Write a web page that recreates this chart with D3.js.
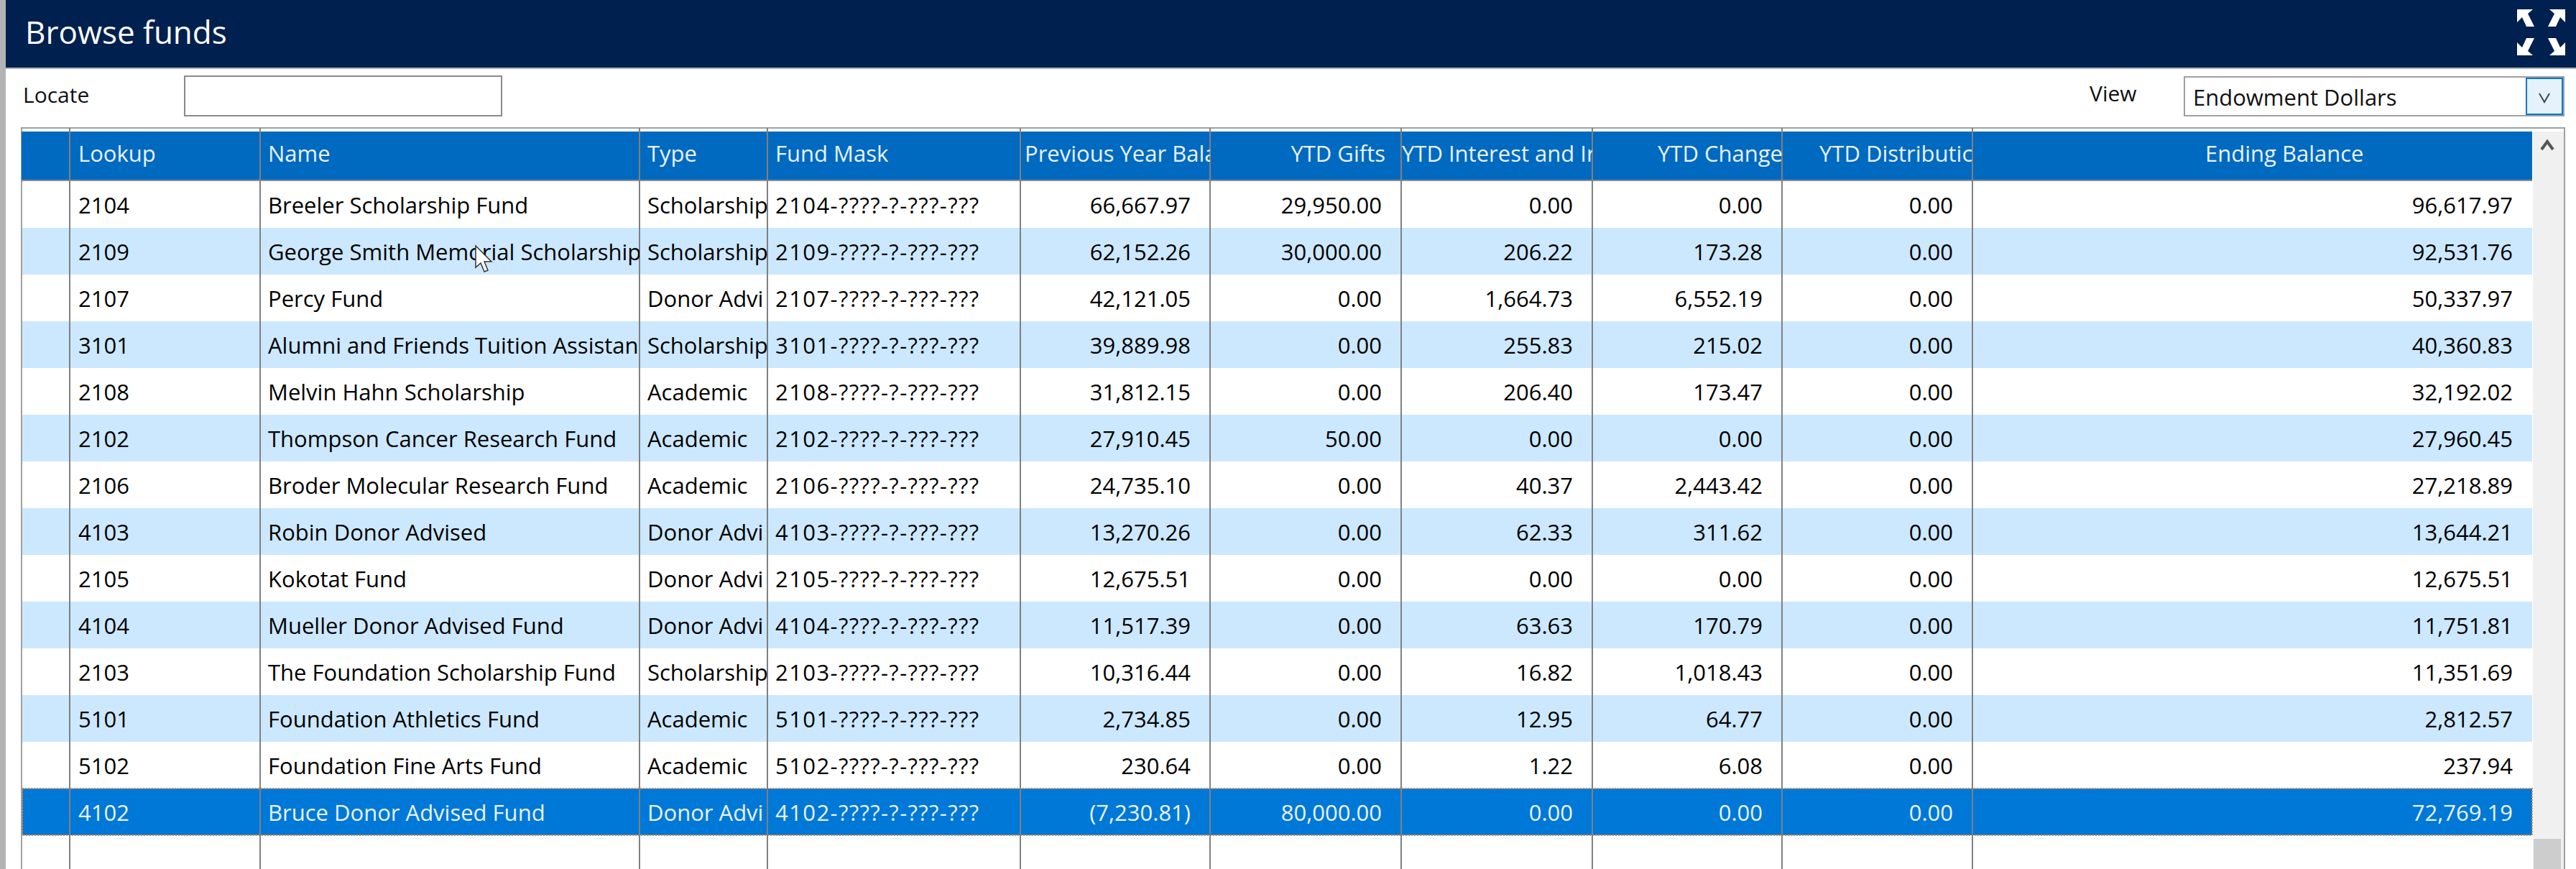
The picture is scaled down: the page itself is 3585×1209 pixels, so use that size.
<!DOCTYPE html>
<html>
<head>
<meta charset="utf-8">
<title>Browse funds</title>
<script src="https://cdnjs.cloudflare.com/ajax/libs/d3/7.8.5/d3.min.js"></script>
<style>
    html, body { margin: 0; padding: 0; background: #fff; overflow: hidden; }
    text { font-family: 'Open Sans', 'Noto Sans', sans-serif; }
</style>
</head>
<body>
<svg id="screen" width="3585" height="1209"></svg>
<script>
// long strings stop where the grid cuts them off in the screenshot
const lookups = ['2104', '2109', '2107', '3101', '2108', '2102', '2106', '4103', '2105', '4104', '2103', '5101', '5102', '4102'];
const names = ['Breeler Scholarship Fund', 'George Smith Memorial Scholarship', 'Percy Fund',
    'Alumni and Friends Tuition Assistan', 'Melvin Hahn Scholarship', 'Thompson Cancer Research Fund',
    'Broder Molecular Research Fund', 'Robin Donor Advised', 'Kokotat Fund', 'Mueller Donor Advised Fund',
    'The Foundation Scholarship Fund', 'Foundation Athletics Fund', 'Foundation Fine Arts Fund', 'Bruce Donor Advised Fund'];
const types = ['Scholarship', 'Scholarship', 'Donor Advi', 'Scholarship', 'Academic', 'Academic', 'Academic',
    'Donor Advi', 'Donor Advi', 'Donor Advi', 'Scholarship', 'Academic', 'Academic', 'Donor Advi'];
const previousBalance = [66667.97, 62152.26, 42121.05, 39889.98, 31812.15, 27910.45, 24735.10, 13270.26, 12675.51, 11517.39, 10316.44, 2734.85, 230.64, -7230.81];
const ytdGifts = [29950, 30000, 0, 0, 0, 50, 0, 0, 0, 0, 0, 0, 0, 80000];
const ytdInterest = [0, 206.22, 1664.73, 255.83, 206.40, 0, 40.37, 62.33, 0, 63.63, 16.82, 12.95, 1.22, 0];
const ytdChange = [0, 173.28, 6552.19, 215.02, 173.47, 0, 2443.42, 311.62, 0, 170.79, 1018.43, 64.77, 6.08, 0];
const ytdDistributions = [0, 0, 0, 0, 0, 0, 0, 0, 0, 0, 0, 0, 0, 0];
const endingBalance = [96617.97, 92531.76, 50337.97, 40360.83, 32192.02, 27960.45, 27218.89, 13644.21, 12675.51, 11751.81, 11351.69, 2812.57, 237.94, 72769.19];
const columnTitles = ['', 'Lookup', 'Name', 'Type', 'Fund Mask', 'Previous Year Bala', 'YTD Gifts',
    'YTD Interest and Ir', 'YTD Change', 'YTD Distributic', 'Ending Balance'];
const selectedLookup = '4102';

// layout
const columnEdges = [30, 97, 362, 890, 1068, 1420, 1684, 1950, 2216, 2480, 2745, 3524];
const fontSize = 31;

const svg = d3.select('#screen');
const navy = '#00204f', headerBlue = '#0069c0', rowBlue = '#cce8ff', selectedBlue = '#0078d7', lineGray = '#808080';

const x = d3.scaleOrdinal(columnTitles, columnEdges);
const right = name => columnEdges[columnTitles.indexOf(name) + 1];
const y = d3.scaleBand(lookups, [252, 1162]);
const money = v => v < 0 ? '(' + d3.format(',.2f')(-v) + ')' : d3.format(',.2f')(v);

// frame
svg.append('rect').attr('width', 8).attr('height', 1209).attr('fill', '#b3b3b3');
svg.append('rect').attr('x', 8).attr('width', 3577).attr('height', 94).attr('fill', navy);
svg.append('rect').attr('x', 8).attr('y', 94).attr('width', 3577).attr('height', 2).attr('fill', '#a9b4c4');
svg.append('text').attr('x', 35).attr('y', 61).attr('fill', '#fff').attr('font-size', 44).text('Browse funds');

// full screen arrows
const arrow = 'M0,0 L22,0 L15,6 L24,24 L13,24 L7,11 L0,18 Z';
[[3503, 13, 1, 1], [3570, 13, -1, 1], [3503, 77, 1, -1], [3570, 77, -1, -1]].forEach(a => {
    svg.append('path').attr('d', arrow).attr('fill', '#fff')
        .attr('transform', `translate(${a[0]},${a[1]}) scale(${a[2]},${a[3]})`);
});

// locate and view controls
svg.append('text').attr('x', 32).attr('y', 143).attr('font-size', 30).attr('fill', '#111').text('Locate');
svg.append('rect').attr('x', 257).attr('y', 106).attr('width', 441).attr('height', 55)
    .attr('fill', '#fff').attr('stroke', '#8a8a8a').attr('stroke-width', 2);
svg.append('text').attr('x', 2908).attr('y', 141).attr('font-size', 30).attr('fill', '#111').text('View');
svg.append('rect').attr('x', 3040).attr('y', 107).attr('width', 528).attr('height', 54)
    .attr('fill', '#fff').attr('stroke', '#a0a0a0').attr('stroke-width', 2);
svg.append('rect').attr('x', 3516).attr('y', 109).attr('width', 50).attr('height', 50)
    .attr('fill', '#e5f1fb').attr('stroke', '#0078d7').attr('stroke-width', 2);
svg.append('path').attr('d', 'M3534,130 L3541,142 L3548,130').attr('fill', 'none').attr('stroke', '#444').attr('stroke-width', 2);
svg.append('text').attr('x', 3052).attr('y', 147).attr('font-size', fontSize).attr('fill', '#111').text('Endowment Dollars');

// table frame
svg.append('rect').attr('x', 30).attr('y', 178).attr('width', 3539).attr('height', 1040)
    .attr('fill', '#fff').attr('stroke', '#a0a0a0').attr('stroke-width', 2);
svg.append('rect').attr('x', 30).attr('y', 183).attr('width', 3494).attr('height', 68).attr('fill', headerBlue);
svg.append('rect').attr('x', 30).attr('y', 250).attr('width', 3494).attr('height', 3).attr('fill', '#8c8c8c');

// scrollbar
svg.append('rect').attr('x', 3525).attr('y', 183).attr('width', 43).attr('height', 1026).attr('fill', '#f0f0f0');
svg.append('rect').attr('x', 3526).attr('y', 1167).attr('width', 38).attr('height', 42).attr('fill', '#cdcdcd');
svg.append('path').attr('d', 'M3537,208 L3545,197 L3553,208').attr('fill', 'none').attr('stroke', '#555').attr('stroke-width', 4);

// rows
svg.append('g').selectAll('rect')
    .data(lookups)
    .enter()
    .append('rect')
    .attr('x', 31)
    .attr('y', d => y(d))
    .attr('width', 3493)
    .attr('height', y.bandwidth())
    .attr('fill', (d, i) => d === selectedLookup ? selectedBlue : i % 2 ? rowBlue : '#fff');

// dotted focus border on the selected row
svg.append('rect')
    .attr('x', 31)
    .attr('y', y(selectedLookup))
    .attr('width', 3493)
    .attr('height', y.bandwidth())
    .attr('fill', 'none')
    .attr('stroke', '#d98a3d')
    .attr('stroke-width', 2)
    .attr('stroke-dasharray', '2,2');

// column clips so the long text is cut at the column edge, as in the grid
const defs = svg.append('defs');
columnTitles.forEach((t, i) => {
    defs.append('clipPath').attr('id', 'col' + i)
        .append('rect')
        .attr('x', columnEdges[i])
        .attr('y', 170)
        .attr('width', columnEdges[i + 1] - columnEdges[i])
        .attr('height', 1039);
});

// grid lines
svg.append('g').selectAll('line')
    .data(columnEdges.slice(1, -1))
    .enter()
    .append('line')
    .attr('x1', d => d)
    .attr('x2', d => d)
    .attr('y1', 178)
    .attr('y2', 1209)
    .attr('stroke', lineGray)
    .attr('stroke-width', 2);

// header labels: [column, anchor, text x]
const headerLabels = [
    ['Lookup', 'start', 109], ['Name', 'start', 373], ['Type', 'start', 901], ['Fund Mask', 'start', 1079],
    ['Previous Year Bala', 'start', 1426], ['YTD Gifts', 'end', 1928],
    ['YTD Interest and Ir', 'start', 1951], ['YTD Change', 'end', 2481],
    ['YTD Distributic', 'start', 2532], ['Ending Balance', 'start', 3069]
];
svg.append('g').selectAll('text')
    .data(headerLabels)
    .enter()
    .append('text')
    .attr('x', d => d[2])
    .attr('y', 225)
    .attr('text-anchor', d => d[1])
    .attr('font-size', fontSize)
    .attr('fill', '#e8f3fc')
    .attr('clip-path', d => `url(#col${columnTitles.indexOf(d[0])})`)
    .text(d => d[0]);

// cells
const textColumns = [
    ['Lookup', lookups, 12, 0],
    ['Name', names, 11, 0],
    ['Type', types, 11, 0],
    ['Fund Mask', lookups.map(d => d + '-????-?-???-???'), 11, 1.4]
];
const numberColumns = [
    ['Previous Year Bala', previousBalance],
    ['YTD Gifts', ytdGifts],
    ['YTD Interest and Ir', ytdInterest],
    ['YTD Change', ytdChange],
    ['YTD Distributic', ytdDistributions],
    ['Ending Balance', endingBalance]
];
const cellFill = (d, i) => lookups[i] === selectedLookup ? '#e8f3fc' : '#000';

textColumns.forEach(c => {
    svg.append('g').selectAll('text')
        .data(c[1])
        .enter()
        .append('text')
        .attr('x', x(c[0]) + c[2])
        .attr('y', (d, i) => y(lookups[i]) + 45)
        .attr('font-size', fontSize)
        .attr('letter-spacing', c[3])
        .attr('fill', cellFill)
        .attr('clip-path', `url(#col${columnTitles.indexOf(c[0])})`)
        .text(d => d);
});

numberColumns.forEach(c => {
    svg.append('g').selectAll('text')
        .data(c[1])
        .enter()
        .append('text')
        .attr('x', right(c[0]) - 27)
        .attr('y', (d, i) => y(lookups[i]) + 45)
        .attr('text-anchor', 'end')
        .attr('font-size', fontSize)
        .attr('fill', cellFill)
        .text(d => money(d));
});

// mouse pointer left over the second row
svg.append('path')
    .attr('d', 'M662,342 L662,372 L669,366 L674,378 L679,376 L674,364 L684,364 Z')
    .attr('fill', '#fff')
    .attr('stroke', '#333')
    .attr('stroke-width', 1.5);
</script>
</body>
</html>
